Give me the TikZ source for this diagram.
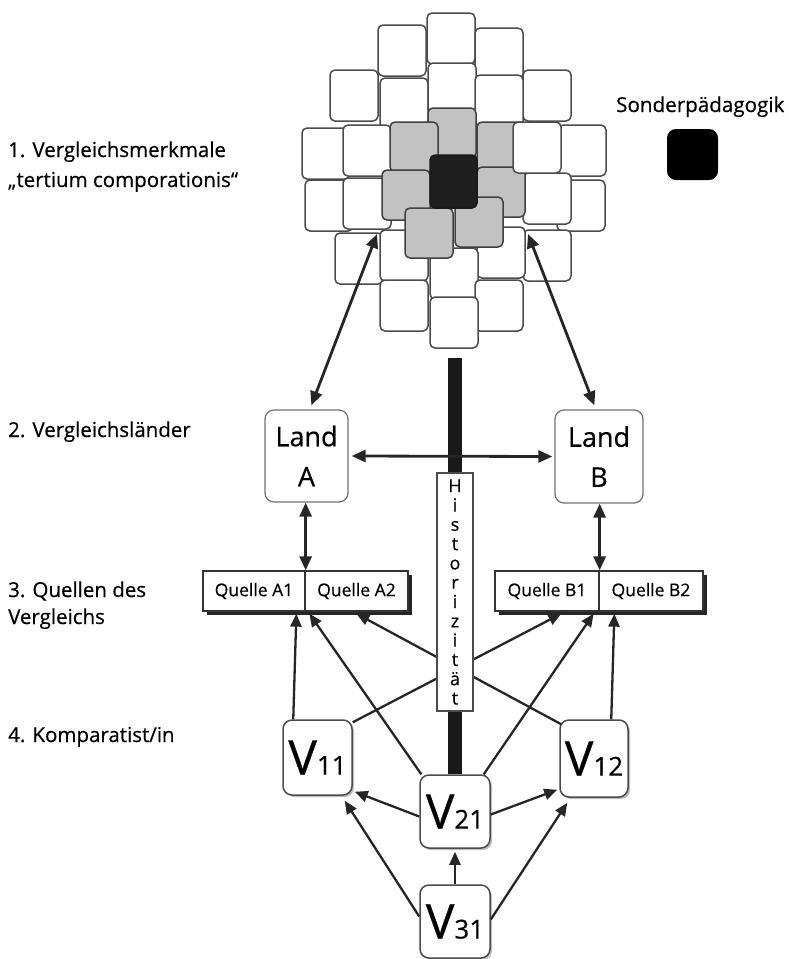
\documentclass[tikz,border=0pt]{standalone}
\usepackage{fontspec}
\setmainfont{Open Sans}[FakeBold=0.5]
\usetikzlibrary{arrows.meta,calc,shadows}
\begin{document}
\begin{tikzpicture}[x=1pt,y=-1pt,
  sq/.style={draw=black!70, line width=1.5pt, rounded corners=5pt, fill=white},
  gsq/.style={sq, fill=black!24, draw=black!75},
  bsq/.style={sq, fill=black!88, draw=black!90},
  lab/.style={inner sep=0pt, font=\fontsize{20.5}{20.5}\selectfont},
  landbox/.style={draw=black!55, line width=1.3pt, rounded corners=9pt, fill=white,
    align=center, inner sep=0pt, font=\fontsize{27}{40}\selectfont},
  qbox/.style={draw=black!80, line width=1.3pt, fill=white, inner sep=0pt,
    minimum height=40pt, font=\fontsize{17.5}{20}\selectfont,
    drop shadow={shadow xshift=4pt, shadow yshift=-4pt, fill=black!85, opacity=1}},
  vbox/.style={draw=black!70, line width=1.5pt, rounded corners=9pt, fill=white,
    inner sep=0pt, font=\fontsize{48}{48}\selectfont,
    drop shadow={shadow xshift=2pt, shadow yshift=-2pt, fill=black!25, opacity=1}},
  histbox/.style={draw=black!70, line width=1.1pt, fill=white, inner sep=0pt,
    minimum width=36pt, minimum height=238pt, align=center,
    font=\fontsize{18}{19.3}\selectfont},
  arr/.style={-{Triangle[length=13pt,width=11pt]}, line width=2.3pt, draw=black!85},
  arrtwo/.style={{Triangle[length=14pt,width=12pt]}-{Triangle[length=14pt,width=12pt]},
    line width=2.8pt, draw=black!85}
]
\fill[white] (0,0) rectangle (789,959);
\useasboundingbox (0,0) rectangle (789,959);

% ---- cluster of squares ----
\foreach \x/\y in {427/13, 378/25, 475/28, 330/70, 523/70, 380/78, 428/63, 475/75,
  302/128, 558/125, 343/125, 305/180, 557/180, 343/178, 523/173,
  335/233, 523/230, 380/230, 477/227, 430/248, 380/280, 475/280, 430/297}
  \draw[sq] (\x,\y) rectangle ++(48,51);
\foreach \x/\y in {428/108, 390/122, 477/122, 382/170, 477/167, 405/208, 455/197}
  \draw[gsq] (\x,\y) rectangle ++(48,50);
\draw[sq] (513,122) rectangle ++(48,51);
\draw[bsq] (430,155) rectangle ++(47,53);

% ---- labels ----
\node[lab, anchor=base west] (l1) at (8,157) {1. Vergleichsmerkmale};
\node[lab, anchor=base west] (l1b) at (8,187) {„tertium comporationis“};
\node[lab, anchor=base west] (l2) at (8,437) {2. Vergleichsländer};
\node[lab, anchor=base west] (l3) at (8,597) {3. Quellen des};
\node[lab, anchor=base west] (l3b) at (8,624) {Vergleichs};
\node[lab, anchor=base west] (l4) at (8,742) {4. Komparatist/in};
\node[lab, anchor=base west, font=\fontsize{20.6}{20.6}\selectfont] (sp) at (616,112) {Sonderpädagogik};
\node[fill=black, rounded corners=9pt, minimum size=51pt, inner sep=0pt] (spsq) at (692.5,154.5) {};

% ---- main nodes ----
\node[landbox, minimum width=83pt, minimum height=92pt] (landA) at (306.5,456) {Land\\A};
\node[landbox, minimum width=88pt, minimum height=93pt] (landB) at (599,456.5) {Land\\B};

\node[qbox, minimum width=102pt] (qa1) at (254,591) {Quelle A1};
\node[qbox, minimum width=103pt] (qa2) at (356.5,591) {Quelle A2};
\node[qbox, minimum width=104pt] (qb1) at (547,591) {Quelle B1};
\node[qbox, minimum width=104pt] (qb2) at (651,591) {Quelle B2};

\node[vbox, minimum width=69pt, minimum height=75pt] (v11) at (317.5,757.5) {V\fontsize{26}{26}\selectfont 11};
\node[vbox, minimum width=68pt, minimum height=77pt] (v12) at (594,758.5) {V\fontsize{26}{26}\selectfont 12};
\node[vbox, minimum width=70pt, minimum height=73pt] (v21) at (455,811.5) {V\fontsize{26}{26}\selectfont 21};
\node[vbox, minimum width=70pt, minimum height=73pt] (v31) at (455,921.5) {V\fontsize{26}{26}\selectfont 31};

% ---- black bar ----
\coordinate (bartop) at (455,358);
\draw[line width=14pt, black!90] (bartop) -- (v21.north);

% ---- connectors ----
\coordinate (cA) at (377,234);
\coordinate (cB) at (528,234);
\draw[arrtwo] (cA) -- ($(landA.north west)+(47,-4)$);
\draw[arrtwo] (cB) -- ($(landB.north west)+(40,-4)$);
\draw[arrtwo] ($(landA.east)+(3,0)$) -- ($(landB.west)+(-2,0)$);
\draw[arrtwo] (landA.south -| qa1.north east) -- (qa1.north east);
\draw[arrtwo] (landB.south -| qb1.north east) -- (qb1.north east);

\draw[arr] ($(v11.north west)+(11,0)$) -- ($(qa1.south west)+(94,2)$);
\draw[arr] ($(v21.north west)+(2,0)$) -- ($(qa2.south west)+(5,2)$);
\draw[arr] ($(v12.north west)+(2,5)$) -- ($(qa2.south west)+(52,2)$);
\draw[arr] ($(v11.north east)+(0,3)$) -- ($(qb1.south west)+(67,2)$);
\draw[arr] ($(v21.north east)+(-7,0)$) -- ($(qb1.south east)+(-6,2)$);
\draw[arr] ($(v12.north west)+(52,0)$) -- ($(qb2.south west)+(16,2)$);
\draw[arr] ($(v21.west)+(0,5)$) -- ($(v11.south east)+(2,-4)$);
\draw[arr] ($(v21.east)+(0,3)$) -- ($(v12.south west)+(-2,-8)$);
\draw[arr] (v31.north) -- ($(v21.south)+(0,3)$);
\draw[arr] ($(v31.west)+(0,-5)$) -- ($(v11.south east)+(-8,5)$);
\draw[arr] ($(v31.east)+(0,-2)$) -- ($(v12.south west)+(8,5)$);

% ---- Historizitaet box ----
\node[histbox] (hist) at (455,592) {H\\i\\s\\t\\o\\r\\i\\z\\i\\t\\ä\\t};
\end{tikzpicture}
\end{document}
